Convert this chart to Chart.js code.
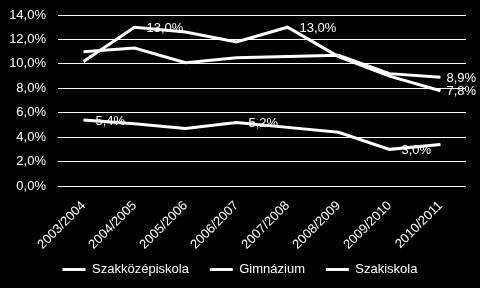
<!DOCTYPE html>
<html>
<head>
<meta charset="utf-8">
<script src="https://cdn.jsdelivr.net/npm/chart.js@4/dist/chart.umd.min.js"></script>
<style>
html,body{margin:0;padding:0;background:#000;}
#wrap{width:480px;height:288px;position:relative;}
</style>
</head>
<body>
<div id="wrap"><canvas id="c" width="480" height="288"></canvas></div>
<script>
const categories = ['2003/2004','2004/2005','2005/2006','2006/2007','2007/2008','2008/2009','2009/2010','2010/2011'];
const szakkozepiskola = [11.0, 11.3, 10.1, 10.5, 10.6, 10.7, 9.2, 8.9];
const gimnazium = [5.4, 5.1, 4.7, 5.2, 4.8, 4.4, 3.0, 3.4];
const szakiskola = [10.2, 13.0, 12.6, 11.8, 13.0, 10.6, 9.0, 7.8];
const yTicks = [0, 2, 4, 6, 8, 10, 12, 14];
// indices of points that carry a data label
const labelIdxSzakkozep = [7];
const labelIdxGimn = [0, 3, 6];
const labelIdxSzakisk = [1, 4, 7];

const fmt = v => v.toFixed(1).replace('.', ',') + '%';
const FONT = "'Liberation Sans', Arial, sans-serif";

const bgPlugin = {
  id: 'bg',
  beforeDraw(chart) {
    const ctx = chart.ctx;
    ctx.save();
    ctx.fillStyle = '#000';
    ctx.fillRect(0, 0, chart.width, chart.height);
    ctx.restore();
  }
};

const labelPlugin = {
  id: 'dlabels',
  afterDatasetsDraw(chart) {
    const ctx = chart.ctx;
    ctx.save();
    ctx.font = '13px ' + FONT;
    ctx.fillStyle = '#ffffff';
    ctx.textBaseline = 'middle';
    ctx.textAlign = 'left';
    chart.data.datasets.forEach((ds, di) => {
      const meta = chart.getDatasetMeta(di);
      (ds.labelIdx || []).forEach(i => {
        const el = meta.data[i];
        const off = (i === ds.data.length - 1) ? 6 : 12;
        ctx.fillText(fmt(ds.data[i]), el.x + off, el.y + 1);
      });
    });
    ctx.restore();
  }
};

const common = { borderColor: '#ffffff', backgroundColor: '#ffffff', borderWidth: 3, pointRadius: 0, tension: 0, fill: false };

new Chart(document.getElementById('c'), {
  type: 'line',
  data: {
    labels: categories,
    datasets: [
      Object.assign({ label: 'Szakközépiskola', data: szakkozepiskola, labelIdx: labelIdxSzakkozep }, common),
      Object.assign({ label: 'Gimnázium', data: gimnazium, labelIdx: labelIdxGimn }, common),
      Object.assign({ label: 'Szakiskola', data: szakiskola, labelIdx: labelIdxSzakisk }, common)
    ]
  },
  options: {
    responsive: false,
    animation: false,
    devicePixelRatio: 1,
    layout: { padding: { left: 8, right: 8, top: 15, bottom: 2 } },
    plugins: {
      legend: {
        position: 'bottom',
        labels: {
          color: '#ffffff',
          font: { family: FONT, size: 13 },
          usePointStyle: true,
          pointStyle: 'line',
          pointStyleWidth: 23,
          padding: 10,
          generateLabels(chart) {
            const items = Chart.defaults.plugins.legend.labels.generateLabels(chart);
            const n = items.length;
            items.forEach((it, i) => { it.lineWidth = 3; if (i < n - 1) it.text = it.text + '   '; });
            return items;
          }
        }
      },
      tooltip: { enabled: false }
    },
    scales: {
      x: {
        offset: true,
        grid: { display: false, drawTicks: false },
        border: { display: false },
        afterFit(axis) { axis.height = 67; axis.paddingLeft = 0; axis.paddingRight = 14; },
        ticks: { color: '#ffffff', font: { family: FONT, size: 13 }, minRotation: 45, maxRotation: 45, padding: 12 }
      },
      y: {
        min: 0, max: 14,
        afterBuildTicks(axis) { axis.ticks = yTicks.map(v => ({ value: v })); },
        afterFit(axis) { axis.width = 50; axis.paddingTop = 0; axis.paddingBottom = 0; },
        grid: { color: '#ffffff', lineWidth: 1, drawTicks: false },
        border: { display: false },
        ticks: { color: '#ffffff', font: { family: FONT, size: 13 }, padding: 12, callback: v => fmt(v) }
      }
    }
  },
  plugins: [bgPlugin, labelPlugin]
});
</script>
</body>
</html>
